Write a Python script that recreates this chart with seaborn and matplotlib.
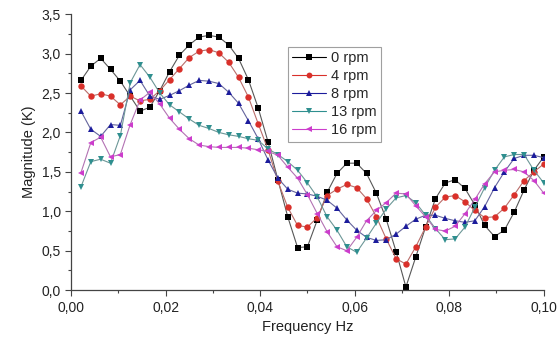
import numpy as np
import pandas as pd
import matplotlib
matplotlib.use("Agg")
import matplotlib.pyplot as plt
from matplotlib.ticker import FuncFormatter, MultipleLocator
from matplotlib.colors import to_rgb
import seaborn as sns

# 48 frequency bins, step 1/480 Hz
freq = [k / 480 for k in range(1, 49)]

rpm0 = [2.66, 2.84, 2.94, 2.80, 2.65, 2.46, 2.27, 2.32, 2.53, 2.77,
        2.98, 3.11, 3.21, 3.23, 3.21, 3.11, 2.94, 2.67, 2.31, 1.88,
        1.40, 0.93, 0.54, 0.55, 0.89, 1.24, 1.48, 1.61, 1.61, 1.48,
        1.23, 0.90, 0.49, 0.04, 0.42, 0.80, 1.16, 1.36, 1.40, 1.29,
        1.08, 0.82, 0.68, 0.76, 0.99, 1.27, 1.52, 1.69]
rpm4 = [2.59, 2.46, 2.49, 2.46, 2.35, 2.46, 2.40, 2.42, 2.53, 2.67,
        2.81, 2.95, 3.03, 3.05, 3.01, 2.89, 2.70, 2.45, 2.11, 1.78,
        1.38, 1.05, 0.82, 0.80, 0.92, 1.20, 1.28, 1.34, 1.30, 1.16,
        0.93, 0.65, 0.40, 0.33, 0.55, 0.80, 1.05, 1.18, 1.20, 1.12,
        1.01, 0.92, 0.93, 1.04, 1.21, 1.39, 1.50, 1.60]
rpm8 = [2.27, 2.04, 1.95, 2.10, 2.09, 2.54, 2.66, 2.46, 2.42, 2.47,
        2.53, 2.60, 2.66, 2.65, 2.62, 2.51, 2.37, 2.15, 1.92, 1.65,
        1.42, 1.28, 1.23, 1.22, 1.19, 1.14, 1.04, 0.89, 0.76, 0.67,
        0.63, 0.64, 0.71, 0.81, 0.90, 0.95, 0.95, 0.91, 0.88, 0.86,
        0.88, 1.06, 1.30, 1.50, 1.67, 1.71, 1.71, 1.68]
rpm13 = [1.31, 1.63, 1.66, 1.61, 1.96, 2.63, 2.86, 2.70, 2.50, 2.35,
         2.26, 2.17, 2.09, 2.05, 2.00, 1.97, 1.95, 1.92, 1.90, 1.79,
         1.72, 1.63, 1.52, 1.36, 1.18, 0.93, 0.76, 0.55, 0.48, 0.66,
         0.85, 1.03, 1.17, 1.20, 1.11, 0.95, 0.78, 0.64, 0.65, 0.80,
         1.05, 1.30, 1.52, 1.69, 1.72, 1.72, 1.52, 1.36]
rpm16 = [1.49, 1.87, 1.94, 1.69, 1.72, 2.10, 2.41, 2.51, 2.36, 2.18,
         2.04, 1.92, 1.84, 1.82, 1.81, 1.81, 1.81, 1.80, 1.78, 1.76,
         1.71, 1.56, 1.42, 1.21, 0.97, 0.74, 0.55, 0.50, 0.67, 0.88,
         1.01, 1.11, 1.23, 1.22, 1.07, 0.93, 0.77, 0.75, 0.81, 0.97,
         1.15, 1.35, 1.50, 1.52, 1.53, 1.50, 1.39, 1.23]

labels = ["0 rpm", "4 rpm", "8 rpm", "13 rpm", "16 rpm"]
series = [rpm0, rpm4, rpm8, rpm13, rpm16]
colors = ["#000000", "#d9302a", "#1c1c9c", "#2f8f8f", "#cc3dcc"]
markers = ["s", "o", "^", "v", "<"]

df = pd.DataFrame({
    "freq": np.tile(freq, len(labels)),
    "mag": np.concatenate(series),
    "speed": np.repeat(labels, len(freq)),
})

sns.set_style("ticks")
plt.rcParams["font.family"] = ["Liberation Sans", "DejaVu Sans"]

fig = plt.figure(figsize=(5.6, 3.45), dpi=100)
ax = fig.add_axes([0.127, 0.159, 0.844, 0.800])

sns.lineplot(data=df, x="freq", y="mag", hue="speed", style="speed",
             hue_order=labels, style_order=labels,
             palette=dict(zip(labels, colors)),
             markers=dict(zip(labels, markers)), dashes=False,
             markersize=4.6, markeredgewidth=0, linewidth=0.8,
             ax=ax, sort=False, legend=True)


def lighten(c, f=0.55):
    r, g, b = to_rgb(c)
    gray = (0.62, 0.62, 0.62)
    return tuple(x * (1 - f) + gy * f for x, gy in zip((r, g, b), gray))


for line in ax.get_lines():
    c = line.get_color()
    line.set_markerfacecolor(c)
    line.set_markeredgecolor(c)
    line.set_color(lighten(c))

ax.set_xlim(0, 0.1)
ax.set_ylim(0, 3.5)
ax.xaxis.set_major_locator(MultipleLocator(0.02))
ax.xaxis.set_minor_locator(MultipleLocator(0.01))
ax.yaxis.set_major_locator(MultipleLocator(0.5))
ax.yaxis.set_minor_locator(MultipleLocator(0.25))
ax.xaxis.set_major_formatter(FuncFormatter(lambda v, p: f"{v:.2f}".replace(".", ",")))
ax.yaxis.set_major_formatter(FuncFormatter(lambda v, p: f"{v:.1f}".replace(".", ",")))
ax.tick_params(axis="both", which="major", length=4, width=0.8, labelsize=10,
               color="#444444", labelcolor="#222222")
ax.tick_params(axis="both", which="minor", length=2.5, width=0.8, color="#444444")
for s in ["top", "right"]:
    ax.spines[s].set_visible(False)
for s in ["left", "bottom"]:
    ax.spines[s].set_color("#444444")
    ax.spines[s].set_linewidth(0.9)

ax.set_xlabel("Frequency Hz", fontsize=10.5, color="#222222")
ax.set_ylabel("Magnitude (K)", fontsize=10.5, color="#222222")

leg = ax.legend(loc="upper left", bbox_to_anchor=(0.458, 0.882), fontsize=10.5,
                frameon=True, fancybox=False, borderpad=0.3, labelspacing=0.28,
                handlelength=2.3, handletextpad=0.4, borderaxespad=0)
leg.get_frame().set_edgecolor("#888888")
leg.get_frame().set_linewidth(0.8)
for h, c in zip(leg.legend_handles, colors):
    h.set_markersize(4.2)
    h.set_color(c)
    h.set_markerfacecolor(c)
    h.set_markeredgecolor(c)
    h.set_linewidth(0.8)

fig.savefig("out.png", dpi=100)
